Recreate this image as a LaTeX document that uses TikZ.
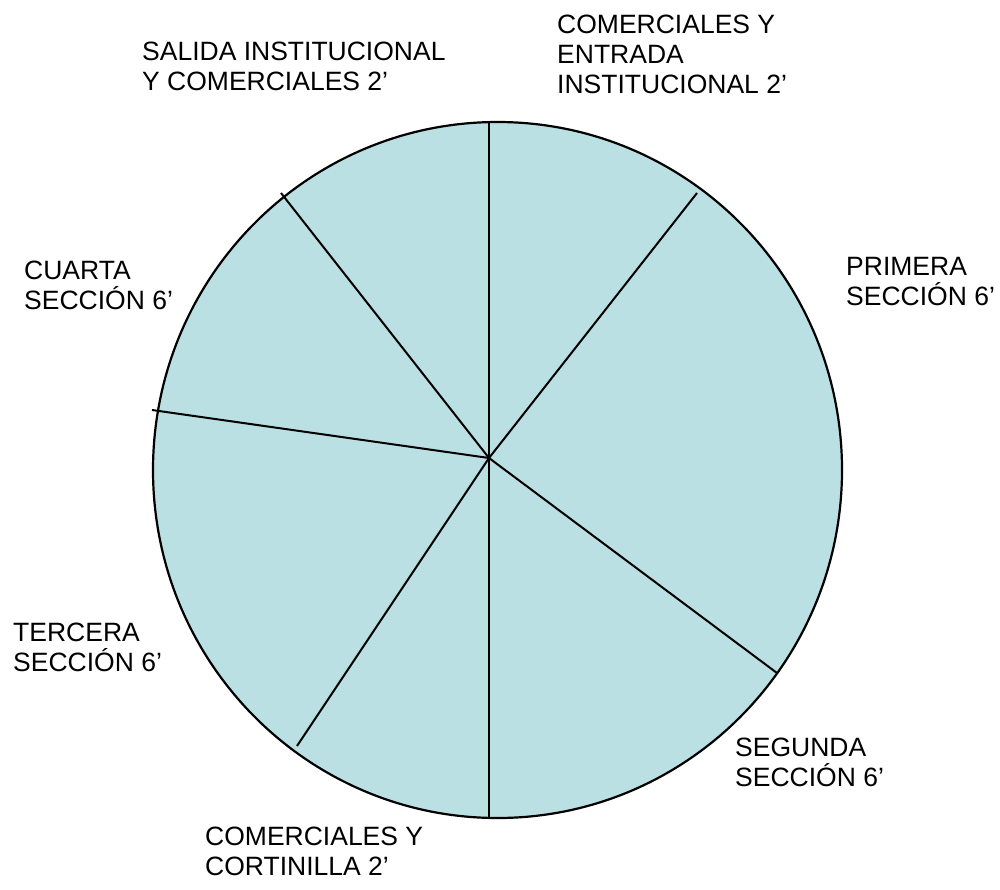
\documentclass[tikz,border=0pt]{standalone}
\usepackage{fontspec}
\setmainfont{Liberation Sans}
\definecolor{piefill}{RGB}{187,224,227}
\begin{document}
\begin{tikzpicture}[x=1pt, y=-1pt,
    spoke/.style={black, line width=2pt},
    label/.style={anchor=base west, align=left, inner sep=0pt,
        font=\fontsize{26.5}{30}\selectfont}]
        \useasboundingbox (0,0) rectangle (1000,889);
        \draw[fill=piefill, line width=2.2pt] (497.5,470) ellipse [x radius=344.5pt, y radius=348pt];
        \coordinate (hub) at (489,458);
        \coordinate (top) at (489,122);
        \coordinate (bottom) at (489,818);
        \coordinate (upright) at (697,193);
        \coordinate (downright) at (777,673);
        \coordinate (downleft) at (297,746);
        \coordinate (left) at (152,410);
        \coordinate (upleft) at (281,193);
        \draw[spoke] (top) -- (bottom);
        \draw[spoke] (hub) -- (upright);
        \draw[spoke] (hub) -- (downright);
        \draw[spoke] (hub) -- (downleft);
        \draw[spoke] (hub) -- (left);
        \draw[spoke] (hub) -- (upleft);
        % base anchor sits on the last line
        \node[label] (salida) at (142,90) {SALIDA INSTITUCIONAL\\Y COMERCIALES 2’};
        \node[label] (entrada) at (557,93) {COMERCIALES Y\\ENTRADA\\INSTITUCIONAL 2’};
        \node[label] (primera) at (846,305) {PRIMERA\\SECCIÓN 6’};
        \node[label] (segunda) at (735,786) {SEGUNDA\\SECCIÓN 6’};
        \node[label] (cortinilla) at (205,875) {COMERCIALES Y\\CORTINILLA 2’};
        \node[label] (tercera) at (13,671) {TERCERA\\SECCIÓN 6’};
        \node[label] (cuarta) at (24,309) {CUARTA\\SECCIÓN 6’};
    \end{tikzpicture}
\end{document}
